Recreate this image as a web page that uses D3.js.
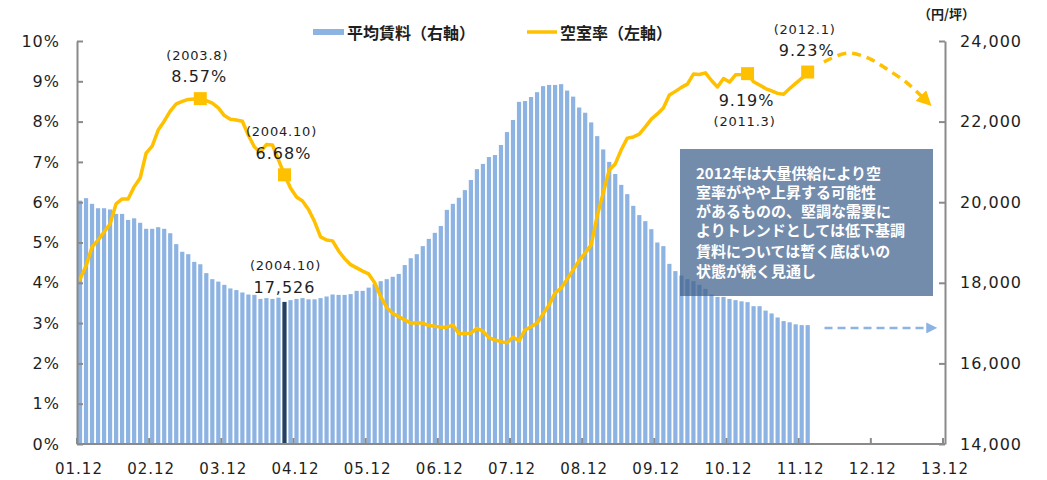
<!DOCTYPE html>
<html><head><meta charset="utf-8">
<script src="https://cdn.jsdelivr.net/npm/d3@7"></script>
<style>body{margin:0;background:#fff}svg{display:block}</style>
</head><body>
<svg id="c" width="1047" height="480"></svg>
<script>
// ---- data ----
const xTickLabels = ["01.12","02.12","03.12","04.12","05.12","06.12","07.12","08.12","09.12","10.12","11.12","12.12","13.12"];
// monthly average rent (yen/tsubo), 2001.12 .. 2012.1
const rent = [20040,20100,19960,19850,19850,19820,19710,19710,19560,19600,
  19490,19340,19340,19380,19340,19230,18960,18770,18710,18520,
  18460,18240,18090,18030,17950,17860,17820,17760,17710,17700,
  17600,17620,17600,17630,17526,17570,17600,17620,17590,17590,
  17620,17660,17710,17700,17700,17720,17800,17800,17880,17970,
  18040,18090,18150,18220,18440,18610,18710,18910,19090,19240,
  19410,19810,19960,20110,20300,20550,20820,20950,21120,21170,
  21420,21740,22040,22490,22510,22610,22730,22880,22910,22910,
  22930,22770,22620,22350,22220,21980,21640,21310,21000,20700,
  20430,20200,19910,19680,19530,19330,19000,18910,18470,18290,
  18180,18090,18040,17950,17850,17710,17650,17650,17600,17570,
  17540,17520,17420,17420,17310,17240,17140,17050,17020,16970,16950,16950];
// monthly vacancy rate (%), 2001.12 .. 2012.1
const vacancy = [4.09,4.42,4.89,5.06,5.26,5.46,5.96,6.08,6.08,6.38,
  6.60,7.22,7.39,7.79,8.01,8.26,8.44,8.50,8.55,8.56,
  8.57,8.52,8.46,8.34,8.15,8.06,8.04,8.01,7.66,7.37,
  7.25,7.43,7.42,7.05,6.68,6.35,6.13,6.03,5.82,5.52,
  5.14,5.06,5.04,4.79,4.60,4.45,4.37,4.29,4.22,4.00,
  3.66,3.39,3.24,3.16,3.08,3.00,3.00,3.00,2.94,2.92,
  2.90,2.90,2.95,2.74,2.74,2.75,2.87,2.80,2.64,2.58,
  2.54,2.51,2.65,2.56,2.83,2.91,3.00,3.23,3.45,3.75,
  3.87,4.09,4.32,4.55,4.74,4.94,5.66,6.23,6.80,6.95,
  7.30,7.59,7.62,7.69,7.87,8.06,8.19,8.34,8.66,8.75,
  8.85,8.93,9.18,9.17,9.21,9.02,8.86,9.07,8.98,9.16,
  9.17,9.19,8.99,8.91,8.82,8.76,8.70,8.68,8.82,8.95,9.07,9.23];
const leftTicks = [0,1,2,3,4,5,6,7,8,9,10];
const rightTicks = [14000,16000,18000,20000,22000,24000];
const rentHighlightIndex = 34;
const rentNote = {i:34, date:"(2004.10)", val:"17,526"};
const vacancyNotes = [
  {i:20, date:"(2003.8)", val:"8.57%", below:false},
  {i:34, date:"(2004.10)", val:"6.68%", below:false},
  {i:111, date:"(2011.3)", val:"9.19%", below:true},
  {i:121, date:"(2012.1)", val:"9.23%", below:false}
];
// forecast guides (month index, value)
const vacancyForecast = [[123.7,9.48],[127.5,9.70],[131,9.58],[134.4,9.28],[137.6,8.95],[140.0,8.62]];
const rentForecast = [[123.8,16880],[140.9,16880]];
const legendBar = "平均賃料（右軸）";
const legendLine = "空室率（左軸）";
const unitLabel = "（円/坪）";
const boxLines = ["2012年は大量供給により空","室率がやや上昇する可能性","があるものの、堅調な需要に","よりトレンドとしては低下基調","賃料については暫く底ばいの","状態が続く見通し"];

// ---- scales ----
const L = 77, R = 945, T = 41, B = 444;
const xl = d3.scaleLinear().domain([0,144]).range([L, 943]);
const xc = i => xl(i + 0.5);
const yL = d3.scaleLinear().domain([0,10]).range([B,T]);
const yR = d3.scaleLinear().domain([14000,24000]).range([B,T]);
const bw = 4.2;

const svg = d3.select("#c");
const num = "'DejaVu Sans', Verdana, sans-serif";
const jp = "'Noto Sans CJK JP', sans-serif";
const axisCol = "#8a8a8a";
const txtCol = "#1e1e1e";

// defs
const defs = svg.append("defs");
defs.append("marker").attr("id","arrY").attr("viewBox","0 0 10 10").attr("refX",1).attr("refY",5)
  .attr("markerWidth",15).attr("markerHeight",15).attr("markerUnits","userSpaceOnUse").attr("orient","auto")
  .append("path").attr("d","M0,0 L10,5 L0,10 z").attr("fill","#FFC000");
defs.append("marker").attr("id","arrB").attr("viewBox","0 0 10 10").attr("refX",1).attr("refY",5)
  .attr("markerWidth",11).attr("markerHeight",11).attr("markerUnits","userSpaceOnUse").attr("orient","auto")
  .append("path").attr("d","M0,0 L10,5 L0,10 z").attr("fill","#8DB3E2");

// bars
svg.append("g").selectAll("rect").data(rent).join("rect")
  .attr("x",(d,i)=>xc(i)-bw/2).attr("width",bw)
  .attr("y",d=>yR(d)).attr("height",d=>B-yR(d))
  .attr("fill",(d,i)=> i===rentHighlightIndex ? "#243F60" : "#8DB3E2");

// vacancy line
svg.append("path").datum(vacancy)
  .attr("d", d3.line().x((d,i)=>xc(i)).y(d=>yL(d)))
  .attr("fill","none").attr("stroke","#FFC000").attr("stroke-width",3.5)
  .attr("stroke-linejoin","round").attr("stroke-linecap","round");

// squares
svg.append("g").selectAll("rect").data(vacancyNotes).join("rect")
  .attr("x",d=>xc(d.i)-6.5).attr("y",d=>yL(vacancy[d.i])-6.5)
  .attr("width",13).attr("height",13).attr("fill","#FFC000");

// forecasts
svg.append("path").datum(vacancyForecast)
  .attr("d", d3.line().curve(d3.curveCatmullRom).x(d=>xc(d[0])).y(d=>yL(d[1])))
  .attr("fill","none").attr("stroke","#FFC000").attr("stroke-width",3.5)
  .attr("stroke-dasharray","9,6").attr("marker-end","url(#arrY)");
svg.append("path").datum(rentForecast)
  .attr("d", d3.line().x(d=>xc(d[0])).y(d=>yR(d[1])))
  .attr("fill","none").attr("stroke","#8DB3E2").attr("stroke-width",2.5)
  .attr("stroke-dasharray","8,5").attr("marker-end","url(#arrB)");

// text box
const box = svg.append("g");
box.append("rect").attr("x",680).attr("y",149).attr("width",253).attr("height",147)
  .attr("fill","rgb(62,96,140)").attr("fill-opacity",0.72);
box.selectAll("text").data(boxLines).join("text")
  .attr("x",696).attr("y",(d,i)=>178.5 + i*19.3 + (i>=4?1.5:0))
  .attr("fill","#fff").attr("font-family",jp).attr("font-size",15).attr("font-weight","bold")
  .text(d=>d);

// axes
const gx = svg.append("g").attr("transform",`translate(0,${B})`);
gx.append("line").attr("x1",L).attr("x2",R).attr("stroke",axisCol).attr("stroke-width",2);
gx.selectAll("line.t").data(xTickLabels).join("line").attr("class","t")
  .attr("x1",(d,i)=>xl(i*12)).attr("x2",(d,i)=>xl(i*12)).attr("y1",0).attr("y2",-6)
  .attr("stroke",axisCol).attr("stroke-width",2);
gx.selectAll("text").data(xTickLabels).join("text")
  .attr("x",(d,i)=>xl(i*12)+2).attr("y",30).attr("text-anchor","middle")
  .attr("font-family",num).attr("font-size",15).attr("letter-spacing",1).attr("fill",txtCol).text(d=>d);

const gl = svg.append("g").attr("transform",`translate(${L},0)`)
  .call(d3.axisLeft(yL).tickValues(leftTicks).tickSize(-6).tickSizeOuter(0).tickPadding(17).tickFormat(d=>d+"%"));
const gr = svg.append("g").attr("transform",`translate(${R},0)`)
  .call(d3.axisRight(yR).tickValues(rightTicks).tickSize(-6).tickSizeOuter(0).tickPadding(15).tickFormat(d3.format(",")));
[gl,gr].forEach(g=>{
  g.select(".domain").attr("stroke",axisCol).attr("stroke-width",2);
  g.selectAll(".tick line").attr("stroke",axisCol).attr("stroke-width",2);
  g.selectAll(".tick text").attr("font-family",num).attr("font-size",16).attr("letter-spacing",1).attr("fill",txtCol);
});

// annotations
const ann = svg.append("g").attr("font-family",num).attr("fill",txtCol).attr("text-anchor","middle");
vacancyNotes.forEach(n=>{
  const px = xc(n.i), py = yL(vacancy[n.i]);
  const dDate = n.below ? 48 : -43;
  const dVal = n.below ? 27 : -22;
  ann.append("text").attr("x",px-3).attr("y",py+dDate).attr("dy","0.36em")
    .attr("font-size",13).attr("letter-spacing",0.8).text(n.date);
  ann.append("text").attr("x",px-1).attr("y",py+dVal).attr("dy","0.36em")
    .attr("font-size",16).attr("letter-spacing",1).text(n.val);
});
{
  const px = xc(rentNote.i), py = yR(rent[rentNote.i]);
  ann.append("text").attr("x",px+1).attr("y",py-37).attr("dy","0.36em")
    .attr("font-size",13).attr("letter-spacing",0.8).text(rentNote.date);
  ann.append("text").attr("x",px).attr("y",py-15).attr("dy","0.36em")
    .attr("font-size",16).attr("letter-spacing",1).text(rentNote.val);
}

// legend
const lg = svg.append("g").attr("font-family",jp).attr("font-weight","bold").attr("font-size",16).attr("fill",txtCol);
lg.append("rect").attr("x",313).attr("y",29).attr("width",31).attr("height",6).attr("fill","#8DB3E2");
lg.append("text").attr("x",347).attr("y",39).text(legendBar);
lg.append("line").attr("x1",527).attr("x2",557).attr("y1",32).attr("y2",32).attr("stroke","#FFC000").attr("stroke-width",3.5);
lg.append("text").attr("x",560).attr("y",39).text(legendLine);
svg.append("text").attr("x",918).attr("y",19).attr("font-family",jp).attr("font-weight","bold")
  .attr("font-size",13).attr("fill",txtCol).text(unitLabel);
</script>
</body></html>
